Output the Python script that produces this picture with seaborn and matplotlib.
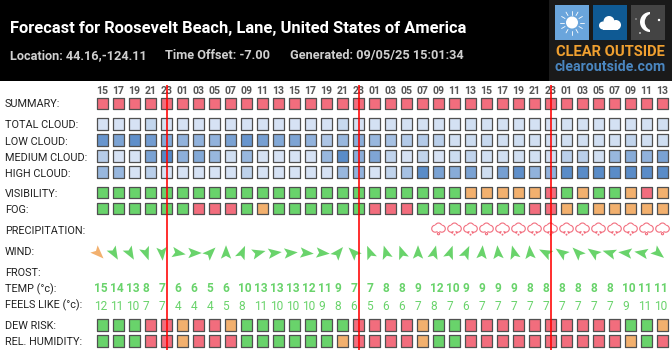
import numpy as np
import pandas as pd
import matplotlib
matplotlib.use("Agg")
import matplotlib.pyplot as plt
import seaborn as sns
from matplotlib.colors import LinearSegmentedColormap
from matplotlib.markers import MarkerStyle
from matplotlib.patches import Circle, Rectangle, Wedge
from matplotlib.path import Path
from matplotlib.transforms import Affine2D

# data
hours = ["15", "17", "19", "21", "23", "01", "03", "05", "07", "09", "11", "13",
         "15", "17", "19", "21", "23", "01", "03", "05", "07", "09", "11", "13",
         "15", "17", "19", "21", "23", "01", "03", "05", "07", "09", "11", "13"]
summary = list("R" * 36)
total_cloud = [5, 5, 5, 18, 5, 5, 5, 5, 5, 5, 5, 5, 5, 5, 5,
               15, 6, 6, 6, 6, 6, 6, 6, 8, 6, 6, 6, 6, 6, 6, 6, 6, 6, 6, 6, 8]
low_cloud = [85, 70, 92, 78, 65, 55, 55, 55, 72, 85, 75, 65, 70, 55, 35,
             50, 60, 50, 40, 30, 30, 25, 8, 12, 15, 8, 10, 8, 8, 8, 8, 8, 8, 20, 8, 10]
medium_cloud = [28, 5, 5, 72, 100, 58, 65, 50, 8, 50, 5, 5, 5, 5, 50,
                95, 60, 68, 20, 5, 20, 5, 12, 20, 8, 8, 8, 8, 8, 25, 25, 8, 50, 62, 55, 72]
high_cloud = [50, 50, 5, 25, 5, 5, 5, 5, 5, 22, 5, 5, 5, 5, 5,
              50, 55, 5, 20, 40, 95, 72, 62, 72, 10, 75, 92, 55, 55, 95, 95, 95, 95, 95, 95, 95]
visibility = list("GGGGGGGGGGGGGGG" + "GGGGGGGGOOOOORGOGGORO")
fog = list("GGGGGGRRRGOGGGG" + "GGRRRGGGGGGGRROGOOOOO")
dew_risk = list("GGGRRORROGGGGGG" + "GRRRROGGRRRRRRRRRRGGO")
humidity = list("GGGRRORRRGGGGGG" + "ORRRROGGRRRRRRRRRROGR")
precip = [""] * 21 + ["heavy", "light", "light", "heavy", "light", "light", "light", "light",
                      "light", "light", "light", "light", "light", "heavy", "heavy"]
wind_bearing = [135, 150, 150, 160, 175, 100, 90, 45, 0, 23, 75, 83, 85, 95, 95,
                40, 315, 338, 343, 340, 0, 15, 20, 25, 5, 355, 345, 355, 297, 305, 315, 305, 287, 276, 280, 129]
wind_level = ["O"] + ["G"] * 35
temp = [15, 14, 13, 8, 7, 6, 6, 5, 6, 10, 13, 13, 13, 12, 11,
        9, 7, 7, 8, 8, 9, 12, 10, 9, 9, 9, 9, 8, 8, 8, 8, 8, 8, 10, 11, 11]
feels_like = [12, 11, 10, 7, 7, 4, 4, 4, 5, 8, 11, 10, 10, 10, 9,
              8, 6, 5, 6, 6, 7, 8, 7, 6, 7, 7, 7, 7, 7, 7, 7, 7, 7, 9, 11, 10]
midnight_cols = [4, 16, 28]

RED, GREEN, ORANGE = "#F26D7D", "#69D36B", "#F2B06E"
level_colors = {"R": RED, "G": GREEN, "O": ORANGE}
cloud_cmap = LinearSegmentedColormap.from_list("cloud", ["#DCE7F6", "#5487C6"])
EDGE = "#505050"

sns.set_theme(style="white")
plt.rcParams["font.family"] = ["Roboto"]

fig = plt.figure(figsize=(6.72, 3.52), dpi=100, facecolor="white")
ax = fig.add_axes([0, 0, 1, 1])
# x in column numbers, y in pixels from the top
x0, pitch = 102.5, 16
ax.set_xlim((0 - x0) / pitch, (672 - x0) / pitch)
ax.set_ylim(352, 0)
ax.axis("off")


def cell_row(values, y, cloud=False):
    df = pd.DataFrame({"col": range(36), "y": y, "v": values})
    kw = dict(hue_norm=(0, 100), palette=cloud_cmap) if cloud else dict(palette=level_colors)
    sns.scatterplot(data=df, x="col", y="y", hue="v", marker="s", s=66, edgecolor=EDGE,
                    linewidth=0.9, legend=False, ax=ax, zorder=3, **kw)


cell_row(summary, 103.2)
cell_row(total_cloud, 124, True)
cell_row(low_cloud, 140, True)
cell_row(medium_cloud, 156, True)
cell_row(high_cloud, 172, True)
cell_row(visibility, 192.8)
cell_row(fog, 208.8)
cell_row(dew_risk, 325)
cell_row(humidity, 341)

# wind arrows
arrow = Path([(0, 7.5), (5, -5.5), (0, -2.8), (-5, -5.5), (0, 7.5)],
             [Path.MOVETO, Path.LINETO, Path.LINETO, Path.LINETO, Path.CLOSEPOLY])
wind_df = pd.DataFrame({"col": np.arange(36) - 0.28, "y": 253.0,
                        "bearing": wind_bearing, "level": wind_level})
arrow_markers = {b: MarkerStyle(arrow, transform=Affine2D().rotate_deg(-b)) for b in set(wind_bearing)}
sns.scatterplot(data=wind_df, x="col", y="y", hue="level", palette=level_colors, style="bearing",
                markers=arrow_markers, s=125, linewidth=0, legend=False, ax=ax, zorder=3)


# precipitation clouds
def shift(arc, cx, cy, r):
    return arc.transformed(Affine2D().scale(r).translate(cx, cy))


outline = [shift(Path.arc(95, 310), -3.3, -0.2, 3.5), shift(Path.arc(-130, 85), 3.3, -0.2, 3.5),
           shift(Path.arc(20, 160), 0, 2.2, 3.3)]
light = Path.make_compound_path(*outline, shift(Path.unit_circle(), -2.2, -4.3, 0.4),
                                shift(Path.unit_circle(), 2.2, -4.3, 0.4), shift(Path.unit_circle(), 0, -6.2, 0.4))
heavy = Path.make_compound_path(*outline, shift(Path.unit_circle(), 0, -5.2, 1.1))
rain_df = pd.DataFrame({"col": range(36), "y": 228.5, "kind": precip})
rain_df = rain_df[rain_df["kind"] != ""]
sns.scatterplot(data=rain_df, x="col", y="y", style="kind", markers={"light": light, "heavy": heavy},
                s=96, facecolor="none", edgecolor=RED, linewidth=0.8, legend=False, ax=ax, zorder=3)

for c in midnight_cols:
    ax.plot([c, c], [85, 350], color="#FF0000", lw=1.15, zorder=5, solid_capstyle="butt")

for i, h in enumerate(hours):
    ax.text(i, 91, h, ha="center", va="center", fontsize=7.6, fontweight="bold", color="#555555", zorder=4)
    ax.text(i - 0.51, 289, str(temp[i]), ha="left", va="center", fontsize=8.6, fontweight="bold", color=GREEN)
    ax.text(i - 0.51, 306.5, str(feels_like[i]), ha="left", va="center", fontsize=8.6, color=GREEN)

row_labels = [("SUMMARY:", 104), ("TOTAL CLOUD:", 125.5), ("LOW CLOUD:", 141.7), ("MEDIUM CLOUD:", 157.7),
              ("HIGH CLOUD:", 173.7), ("VISIBILITY:", 194), ("FOG:", 210), ("PRECIPITATION:", 230.7),
              ("WIND:", 251.7), ("FROST:", 272.7), ("TEMP (\u00b0c):", 289), ("FEELS LIKE (\u00b0c):", 305.5),
              ("DEW RISK:", 326), ("REL. HUMIDITY:", 342)]

# header band and logo, drawn in pixels on a second layer
top = fig.add_axes([0, 0, 1, 1], facecolor="none")
top.set_xlim(0, 672)
top.set_ylim(352, 0)
top.axis("off")
for label, y in row_labels:
    top.text(5, y, label, ha="left", va="center", fontsize=7.8, color="#222222")
top.add_patch(Rectangle((0, 0), 672, 80.5, color="black", lw=0))
top.add_patch(Rectangle((549, 0), 123, 80.5, color="#1A1A1A", lw=0))
top.text(10, 28.5, "Forecast for Roosevelt Beach, Lane, United States of America", color="white",
         fontsize=11.9, fontweight="bold", va="center")
for x, s in [(10, "Location: 44.16,-124.11"), (165, "Time Offset: -7.00"), (290, "Generated: 09/05/25 15:01:34")]:
    top.text(x, 55.5, s, color="#CFCFCF", fontsize=9.2, fontweight="bold", va="center")

top.add_patch(Rectangle((555, 5), 34, 35, color="#6AA5DC", lw=0))
top.add_patch(Rectangle((593, 5), 34, 35, color="#0F5A94", lw=0))
top.add_patch(Rectangle((631, 5), 34, 35, color="#444444", lw=0))
# sun
top.add_patch(Circle((572, 22.5), 6, color="white", lw=0))
for a in np.arange(0, 360, 30):
    ca, sa = np.cos(np.radians(a)), np.sin(np.radians(a))
    top.plot([572 + 8 * ca, 572 + 12 * ca], [22.5 + 8 * sa, 22.5 + 12 * sa], color="white", lw=0.6)
# cloud
for cx, cy, r in [(603, 25.5, 4), (609, 21.5, 5.5), (616, 25, 5)]:
    top.add_patch(Circle((cx, cy), r, color="white", lw=0))
top.add_patch(Rectangle((603, 25), 15, 5, color="white", lw=0))
# moon
top.add_patch(Wedge((650, 22), 10, 90, 270, color="white", lw=0))
top.add_patch(Circle((653.5, 22), 8.7, color="#444444", lw=0))
for sx, sy, sr in [(659, 20, 1.2), (640, 33, 0.8), (636, 19, 0.6)]:
    top.add_patch(Circle((sx, sy), sr, color="white", lw=0))
top.text(610, 52, "CLEAR OUTSIDE", color="#F0A030", fontsize=10.6, fontweight="bold", ha="center", va="center")
top.text(610, 67, "clearoutside.com", color="#4A86C0", fontsize=10.2, fontweight="bold", ha="center", va="center")

fig.savefig("out.png", dpi=100, facecolor="white")
